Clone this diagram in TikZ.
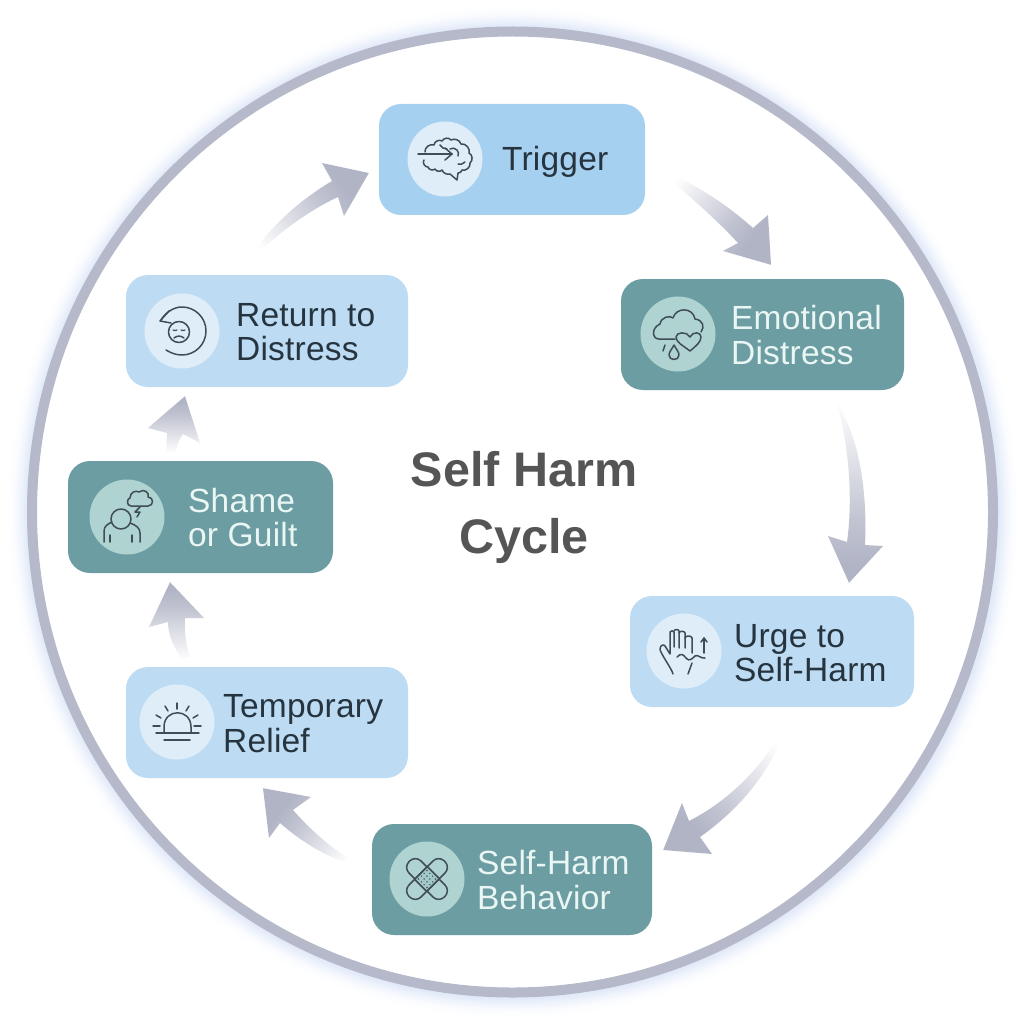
\documentclass[tikz,border=0pt]{standalone}
\usepackage{fontspec}
\setmainfont[LetterSpace=0.6]{Liberation Sans}
\newfontfamily\titlefont{Liberation Sans}
\usetikzlibrary{calc,shapes.geometric}
\definecolor{ringc}{HTML}{B5B9C9}
\definecolor{glowc}{HTML}{E2EAF9}
\definecolor{headc}{HTML}{B1B4C5}
\definecolor{brightblue}{HTML}{A6D0EF}
\definecolor{softblue}{HTML}{BDDCF3}
\definecolor{tealbox}{HTML}{6C9DA2}
\definecolor{softdisc}{HTML}{DFEDF8}
\definecolor{tealdisc}{HTML}{AFD3D1}
\definecolor{inkc}{HTML}{26343F}
\definecolor{paletext}{HTML}{E9F6F4}
\definecolor{titlec}{HTML}{555555}
\pgfdeclareradialshading{ringglow}{\pgfpoint{0bp}{0bp}}{color(0bp)=(glowc);color(23.85bp)=(glowc);color(24.1bp)=(glowc!60!white);color(24.45bp)=(glowc!15!white);color(24.8bp)=(white);color(100bp)=(white)}
\pgfdeclareverticalshading{flowfade}{100bp}{color(0bp)=(white);color(24bp)=(white);color(58bp)=(headc!80!white);color(70bp)=(headc);color(100bp)=(headc)}
\tikzset{
  cardbox/.style={rectangle,rounded corners=22pt,draw=none,inner sep=0pt,minimum height=111pt},
  softcard/.style={cardbox,fill=softblue},
  brightcard/.style={cardbox,fill=brightblue},
  tealcard/.style={cardbox,fill=tealbox},
  softspot/.style={circle,fill=softdisc,inner sep=0pt,minimum size=75pt},
  tealspot/.style={circle,fill=tealdisc,inner sep=0pt,minimum size=75pt},
  cardtext/.style={font=\fontsize{33.5}{34.5}\selectfont,align=left,anchor=west,inner sep=0pt,text=inkc},
  paletxt/.style={cardtext,text=paletext},
  titletext/.style={font=\titlefont\fontsize{48.5}{67}\bfseries\selectfont,align=center,text=titlec,inner sep=0pt},
  glyph/.style={draw=#1,line width=1.5pt,line cap=round,line join=round},
  glyph/.default=inkc!88!white,
  flow/.style={shading=flowfade,shading angle=#1,draw=none}
}
\begin{document}
\begin{tikzpicture}[x=1pt,y=-1pt]
\useasboundingbox (0,0) rectangle (1024,1024);
\fill[white] (0,0) rectangle (1024,1024);
% ring
\shade[shading=ringglow] (512.5,512) circle (510);
\fill[white] (512.5,512) circle (481);
\draw[ringc,line width=10pt] (512.5,512) circle (480.5);
% cards
\node[brightcard,minimum width=266pt] (nTrigger) at (512,159.5) {};
\node[tealcard,minimum width=283pt] (nEmotional) at (762.5,334.5) {};
\node[softcard,minimum width=284pt] (nUrge) at (772,651.5) {};
\node[tealcard,minimum width=280pt] (nBehavior) at (512,879.5) {};
\node[softcard,minimum width=282pt] (nRelief) at (267,722.5) {};
\node[tealcard,minimum width=265pt,minimum height=112pt] (nShame) at (200.5,517) {};
\node[softcard,minimum width=282pt,minimum height=112pt] (nReturn) at (267,331) {};
% discs
\node[softspot] (cTrigger) at (445,159) {};
\node[tealspot] (cEmotional) at (678,334) {};
\node[softspot] (cUrge) at (684,651) {};
\node[tealspot] (cBehavior) at (427,879) {};
\node[softspot] (cRelief) at (177,722) {};
\node[tealspot] (cShame) at (127,517) {};
\node[softspot] (cReturn) at (182,331) {};
% labels
\node[cardtext] (tTrigger) at (502,162) {Trigger};
\node[paletxt] (tEmotional) at (731,335) {Emotional\\Distress};
\node[cardtext] (tUrge) at (734,653) {Urge to\\Self-Harm};
\node[paletxt] (tBehavior) at (477,880) {Self-Harm\\Behavior};
\node[cardtext] (tRelief) at (223,723.5) {Temporary\\Relief};
\node[paletxt] (tShame) at (188,517.5) {Shame\\or Guilt};
\node[cardtext] (tReturn) at (236,332) {Return to\\Distress};
\node[titletext] (title) at (524,507) {Self Harm\\Cycle};
% connector ends
\coordinate (a1s) at ($(nTrigger.east)+(13,10.5)$);
\coordinate (a1e) at ($(nEmotional.north)+(8.5,-14)$);
\coordinate (a2s) at ($(nEmotional.south)+(74.5,13)$);
\coordinate (a2e) at ($(nUrge.north)+(77,-13)$);
\coordinate (a3s) at ($(nUrge.south)+(16,13)$);
\coordinate (a3e) at ($(nBehavior.east)+(11,-29.5)$);
\coordinate (a4s) at ($(nBehavior.west)+(-9,-12.5)$);
\coordinate (a4e) at ($(nRelief.south)+(-4,10)$);
\coordinate (a5s) at ($(nRelief.north)+(-77,-10)$);
\coordinate (a5e) at ($(nShame.south)+(-30.5,9)$);
\coordinate (a6s) at ($(nShame.north)+(-34.5,-9)$);
\coordinate (a6e) at ($(nReturn.south)+(-82,9)$);
\coordinate (a7s) at ($(nReturn.north)+(-22,-10)$);
\coordinate (a7e) at ($(nTrigger.west)+(-10,13.5)$);
% connectors
\shade[flow=-130] (a1s) .. controls (690,180) and (725,203) .. (753,228) -- (768,215) -- (a1e) -- (723,251) -- (738,243) .. controls (715,218) and (685,192) .. (a1s) -- cycle;
\shade[flow=180] (a2s) .. controls (855,430) and (868,480) .. (865,545) -- (883,546) -- (a2e) -- (828,536) -- (847,542) .. controls (853,500) and (849,445) .. (a2s) -- cycle;
\shade[flow=136] (a3s) .. controls (775,765) and (745,805) .. (700,837) -- (712,854) -- (a3e) -- (682,803) -- (689,821) .. controls (730,800) and (765,765) .. (a3s) -- cycle;
\shade[flow=52] (a4s) .. controls (340,855) and (315,835) .. (293,810) -- (311,797) -- (a4e) -- (269,838) -- (280,823) .. controls (305,845) and (335,862) .. (a4s) -- cycle;
\shade[flow=0] (a5s) .. controls (186,645) and (184,632) .. (185,618) -- (204,618) -- (a5e) -- (149,627) -- (168,622) .. controls (168,635) and (174,648) .. (182,659) -- cycle;
\shade[flow=0] (a6s) -- (167,433) -- (148,428) -- (a6e) -- (200,443) -- (183,434) .. controls (178,442) .. (176,452) -- cycle;
\shade[flow=-53] (a7s) .. controls (265,232) and (295,203) .. (332,181) -- (322,163) -- (a7e) -- (344,216) -- (338,197) .. controls (305,212) and (270,240) .. (a7s) -- cycle;
% icon: brain
\begin{scope}[shift={(cTrigger)},glyph]
\draw (-20,-7) to[bend left=60] (-11,-14) to[bend left=60] (-3,-18) to[bend left=60] (6,-19) to[bend left=50] (16,-15) to[bend left=60] (24,-6) to[bend left=60] (25,4) to[bend left=60] (17,11) to[bend left=40] (13,14) -- (12,21) -- (5,15) to[bend left=40] (-3,11) to[bend left=60] (-10,10) to[bend left=60] (-17,8) to[bend left=70] (-21,1);
\draw (5,-10) to[bend left=40] (12,-9) to[bend left=30] (13,-3);
\draw (13,5) to[bend right=30] (20,3);
\draw (-5,-14) to[bend right=30] (2,-10);
\draw (-27,-5) -- (7,-5);
\draw (0,-11) -- (7,-5) -- (0,1);
\end{scope}
% icon: cloud, heart, drop
\begin{scope}[shift={(cEmotional)},glyph]
\draw (-3,5) -- (-19,5) .. controls (-26,5) and (-27,-6) .. (-18,-10) .. controls (-17,-17) and (-8,-19) .. (-5,-16) .. controls (-2,-27) and (15,-27) .. (17,-15) .. controls (25,-14) and (27,-7) .. (23,-2);
\draw (12,17) .. controls (4,11) and (-2,8) .. (-2,3) .. controls (-2,-2) and (9,-3) .. (12,3) .. controls (15,-3) and (23,-2) .. (23,3) .. controls (23,8) and (18,12) .. (12,17) -- cycle;
\draw (-4,11) .. controls (-6,15) and (-9,18) .. (-9,21) .. controls (-9,27) and (1,27) .. (1,21) .. controls (1,18) and (-2,15) .. (-4,11) -- cycle;
\draw (-13,11) -- (-15,17);
\end{scope}
% icon: hand
\begin{scope}[shift={(cUrge)},glyph]
\draw (-11,23) .. controls (-12,18) and (-24,2) .. (-24,-2) .. controls (-24,-6) and (-20,-7) .. (-19,-5) -- (-14,3) -- (-14,-19) to[bend left=80] (-10,-19) -- (-10,-4);
\draw (-10,-20) to[bend left=80] (-5,-20) -- (-5,-3);
\draw (-5,-18) to[bend left=80] (1,-18) -- (1,-3);
\draw (1,-13) to[bend left=80] (8,-13) -- (8,2);
\draw (-7,6) .. controls (-3,2) and (-1,3) .. (2,7) .. controls (5,11) and (8,8) .. (11,5) .. controls (14,3) and (17,8) .. (21,7);
\draw (4,23) -- (8,12);
\draw (20,2) -- (20,-13);
\draw (17,-9) -- (20,-13) -- (23,-9);
\end{scope}
% icon: crossed bandages
\begin{scope}[shift={(cBehavior)},glyph]
\draw[rotate=-45,rounded corners=8pt] (-25,-8.5) rectangle (25,8.5);
\draw[rotate=45,rounded corners=8pt,fill=tealdisc] (-25,-8.5) rectangle (25,8.5);
\draw[rotate=45,fill=tealdisc!80!tealbox] (-9,-8.5) rectangle (9,8.5);
\foreach \i in {-6,-2,2,6}{\foreach \j in {-6,-2,2,6}{
  \fill[inkc,rotate=45] (\i,\j) circle (0.8);}}
\end{scope}
% icon: sunrise
\begin{scope}[shift={(cRelief)},glyph]
\draw (-21,11) -- (22,11);
\draw (-13,18) -- (13,18);
\draw (-13,11) -- (-13,5) .. controls (-13,-14) and (14,-14) .. (14,5) -- (14,11);
\draw (0,-19) -- (0,-13);
\draw (-12,-16) -- (-9,-11);
\draw (12,-16) -- (9,-11);
\draw (-21,-7) -- (-16,-4);
\draw (21,-7) -- (16,-4);
\draw (-24,4) -- (-17,4);
\draw (17,4) -- (24,4);
\end{scope}
% icon: person under a cloud
\begin{scope}[shift={(cShame)},glyph]
\draw (-6,2) circle (10);
\draw (-23,25) -- (-23,14) .. controls (-23,9) and (-19,7) .. (-15,5);
\draw (3,6) .. controls (9,8) and (13,11) .. (13,16) -- (13,25);
\draw (-17,18) -- (-17,25);
\draw (5,18) -- (5,25);
\draw (21,-11) -- (4,-11) .. controls (-1,-11) and (0,-19) .. (3,-19) .. controls (3,-25) and (9,-27) .. (12,-25) .. controls (17,-29) and (23,-24) .. (21,-20) .. controls (27,-20) and (27,-11) .. (21,-11) -- cycle;
\draw (13,-10) -- (8,-5) -- (13,-5) -- (10,0);
\end{scope}
% icon: return with sad face
\begin{scope}[shift={(cReturn)},glyph]
\draw (-16,19) .. controls (-11,22) and (-6,24) .. (0,24) .. controls (13.25,24) and (24,13.25) .. (24,0) .. controls (24,-13.25) and (13.25,-24) .. (0,-24) .. controls (-8,-24) and (-16,-19) .. (-21,-11);
\draw (-13,-20) -- (-22,-10) -- (-11,-8);
\draw (-3,1) circle (10.5);
\draw[line width=1.2pt] (-9,-1) to[bend right=30] (-5,-1);
\draw[line width=1.2pt] (-1,-1) to[bend right=30] (3,-1);
\draw (-8,7) to[bend left=40] (2,7);
\end{scope}
\end{tikzpicture}
\end{document}
